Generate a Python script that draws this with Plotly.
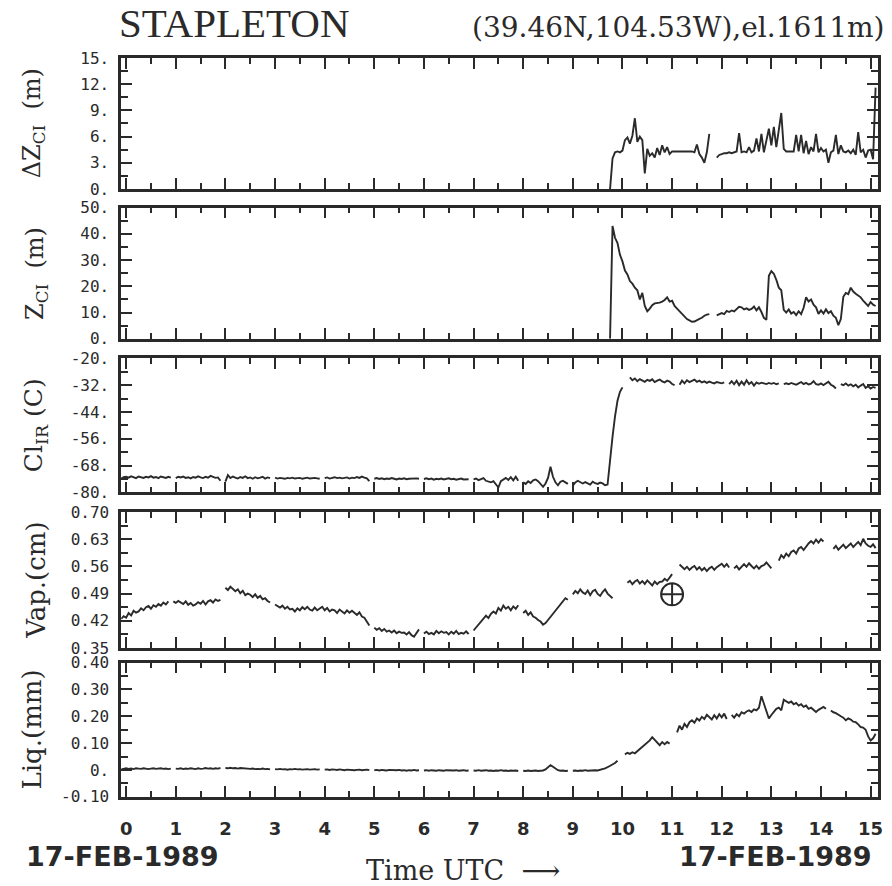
import plotly.graph_objects as go

# ---------------- data (hours UTC, sampled every 0.05 h) ----------------
t_step = 0.05

dz_start = 9.75
dz_values = [
    0.0, 3.5, 4.2, 4.3, 4.2,
    4.4, 5.6, 5.9, 5.2, 6.1,
    8.1, 5.4, 6.0, 5.6, 1.8,
    4.6, 3.8, 4.1, 3.6, 4.7,
    3.9, 5.0, 4.2, 4.8, 4.0,
    4.3, 4.3, 4.3, 4.3, 4.3,
    4.3, 4.3, 4.3, 4.3, 4.2,
    5.1, 4.0, 3.6, 3.0, 4.2,
    6.3, None, None, 3.6, 3.9,
    4.0, 4.1, 4.1, 4.2, 4.1,
    4.2, 4.3, 6.4, 4.2, 4.3,
    4.2, 4.8, 4.2, 4.4, 5.8,
    4.3, 6.3, 4.2, 5.5, 6.9,
    5.0, 7.1, 4.8, 6.5, 8.7,
    4.6, 4.3, 4.3, 4.3, 4.3,
    6.2, 4.3, 6.2, 4.1, 5.5,
    4.0, 4.8, 4.3, 6.3, 4.2,
    4.7, 4.3, 4.5, 3.0, 4.2,
    4.4, 6.2, 4.0, 5.0, 4.3,
    4.2, 4.4, 4.1, 4.5, 3.9,
    6.5, 4.2, 4.5, 3.6, 4.4,
    4.5, 3.4, 11.6,
]

zc_start = 9.75
zc_values = [
    0.0, 43.0, 38.5, 36.5, 32.0,
    29.5, 26.0, 24.5, 22.0, 21.0,
    19.5, 18.5, 15.0, 17.5, 12.5,
    10.5, 11.5, 12.8, 13.5, 13.6,
    13.8, 14.2, 14.8, 15.8, 14.2,
    14.5, 12.5, 11.5, 10.5, 9.5,
    8.2, 7.5, 7.0, 6.5, 6.6,
    7.2, 7.6, 8.0, 8.8, 9.2,
    9.4, None, None, 8.9, 9.2,
    9.8, 9.4, 10.6, 10.2, 10.8,
    10.4, 11.5, 12.2, 12.0, 11.2,
    11.6, 11.0, 11.4, 12.3, 10.8,
    12.0, 10.2, 8.0, 7.2, 24.0,
    25.8, 24.8, 22.5, 19.5, 18.5,
    11.0, 10.0, 11.2, 9.6, 10.2,
    9.0, 10.5, 9.4, 11.8, 15.8,
    14.2, 15.0, 13.0, 12.0, 9.5,
    10.8, 9.6, 11.2, 9.8, 10.5,
    8.8, 8.0, 5.2, 7.5, 16.0,
    17.5, 17.0, 19.5, 18.0, 17.2,
    16.5, 15.8, 14.5, 13.5, 12.5,
    14.0, 13.0, 12.5,
]

ci_start = -0.10
ci_values = [
    -73.8, -73.2,
    -73.0, -73.4, -72.8, -73.3, -73.6, -72.9, -73.2, -73.5, -73.0, -73.3, -72.7, -73.4, -73.1, -73.6, -72.9, -73.2, -73.5, -73.0, -73.4, None,
    -73.6, -73.0, -73.3, -72.9, -73.5, -73.2, -73.7, -73.1, -73.4, -72.8, -73.3, -73.6, -73.0, -73.4, -72.6, -73.2, -73.5, -73.3, -74.8, None,
    -75.2, -72.3, -73.6, -72.9, -73.4, -73.8, -73.1, -73.5, -72.8, -73.6, -73.3, -73.9, -73.2, -73.7, -73.4, -73.0, -73.8, -73.3, -73.6, None,
    -73.4, -73.8, -73.5, -73.6, -73.9, -73.5, -73.7, -73.4, -73.8, -73.6, -73.5, -73.9, -73.7, -73.4, -73.8, -73.6, -73.5, -73.7, -73.9, None,
    -73.6, -73.3, -73.8, -73.5, -73.2, -73.6, -73.4, -73.7, -73.5, -73.3, -73.8, -73.4, -73.6, -73.1, -73.5, -72.9, -73.4, -73.7, -75.0, None,
    -73.9, -73.6, -74.0, -73.7, -74.1, -73.8, -74.0, -73.6, -73.9, -74.2, -73.8, -74.0, -73.7, -74.1, -73.9, -73.8, -74.0, -73.7, -73.9, None,
    -74.0, -73.7, -74.1, -73.8, -74.3, -73.9, -74.1, -73.8, -74.2, -74.0, -73.7, -74.1, -73.9, -74.3, -74.0, -73.8, -74.2, -74.0, -74.1, None,
    -74.2, -73.8, -74.5, -74.0, -73.6, -74.8, -75.2, -75.5, -75.0, -76.5, -77.8, -75.0, -74.2, -73.5, -74.4, -73.2, -74.6, -73.0, -74.8, None,
    -75.5, -76.2, -75.0, -75.8, -74.6, -74.2, -75.0, -76.5, -77.5, -76.0, -73.5, -68.5, -73.0, -75.5, -76.8, -75.2, -74.8, -75.5, -76.2, None,
    -77.0, -75.5, -74.8, -75.6, -76.0, -75.4, -75.8, -76.5, -75.2, -75.9, -76.2, -75.6, -76.0, -76.8, -76.5, -64.0, -55.0, -46.0, -39.0, -35.0,
    -33.0, None, None, -28.5, -29.8, -29.0, -30.2, -29.3, -29.9, -30.5, -29.6, -30.1, -29.4, -30.6, -30.0, -29.5, -30.3, -30.8, -30.0, -30.4,
    -31.5, -32.0, None, -31.8, -30.0, -31.2, -29.8, -30.6, -30.2, -29.5, -30.5, -30.0, -30.8, -30.3, -31.0, -30.4, -30.9, -31.2, -30.6, -31.0,
    -31.2, -30.8, None, -31.5, -30.2, -31.6, -30.0, -32.0, -30.4, -31.8, -29.8, -31.5, -30.6, -32.2, -30.8, -31.4, -30.9, -31.2, -31.5, -31.0,
    -31.4, -31.0, -31.6, -31.2, None, -31.5, -31.2, -31.6, -31.0, -31.4, -31.8, -31.2, -30.6, -31.5, -31.0, -31.7, -31.3, -30.2, -31.5, -31.8,
    -31.2, -32.0, -31.4, -30.5, -31.8, -32.4, -33.5, None, -31.5, -32.0, -31.2, -32.2, -31.6, -32.5, -31.8, -33.0, -32.2, -31.5, -33.2, -32.5,
    -33.5, -32.8, -33.2,
]

vap_start = -0.10
vap_values = [
    0.425, 0.432,
    0.428, 0.440, 0.434, 0.446, 0.441, 0.444, 0.452, 0.447, 0.455, 0.458, 0.451, 0.460, 0.456, 0.463, 0.459, 0.467, 0.462, 0.470, None, 0.470,
    0.466, 0.471, 0.468, 0.463, 0.470, 0.461, 0.466, 0.459, 0.462, 0.468, 0.464, 0.471, 0.462, 0.470, 0.473, 0.467, 0.475, 0.471, 0.474, None,
    0.505, 0.499, 0.508, 0.502, 0.496, 0.501, 0.491, 0.497, 0.486, 0.490, 0.487, 0.481, 0.488, 0.479, 0.484, 0.475, 0.478, 0.471, 0.467, None,
    0.462, 0.457, 0.454, 0.459, 0.451, 0.456, 0.449, 0.451, 0.444, 0.452, 0.447, 0.455, 0.450, 0.456, 0.449, 0.446, 0.454, 0.447, 0.451, 0.456,
    0.447, 0.453, 0.444, 0.449, 0.447, 0.440, 0.449, 0.443, 0.439, 0.447, 0.441, 0.446, 0.440, 0.435, 0.442, 0.431, 0.428, 0.419, 0.408, None,
    0.402, 0.397, 0.401, 0.394, 0.399, 0.392, 0.395, 0.390, 0.395, 0.388, 0.392, 0.389, 0.390, 0.385, 0.391, 0.383, 0.379, 0.387, 0.398, None,
    0.387, 0.392, 0.386, 0.389, 0.385, 0.394, 0.388, 0.393, 0.389, 0.391, 0.385, 0.392, 0.387, 0.394, 0.386, 0.389, 0.387, 0.393, 0.386, None,
    0.395, 0.403, 0.409, 0.419, 0.424, 0.433, 0.427, 0.438, 0.444, 0.439, 0.453, 0.446, 0.459, 0.451, 0.456, 0.447, 0.457, 0.451, 0.460, None,
    0.440, 0.446, 0.435, 0.442, 0.431, 0.428, 0.422, 0.418, 0.410, 0.414, 0.422, 0.430, 0.436, 0.445, 0.455, 0.462, 0.470, 0.478, 0.474, None,
    0.488, 0.497, 0.491, 0.501, 0.493, 0.489, 0.498, 0.486, 0.496, 0.500, 0.489, 0.484, 0.494, 0.501, 0.490, 0.485, 0.478, None, None, None,
    None, None, 0.518, 0.523, 0.514, 0.521, 0.525, 0.516, 0.522, 0.515, 0.524, 0.517, 0.511, 0.521, 0.514, 0.520, 0.521, 0.528, 0.523, 0.531,
    0.540, None, None, 0.565, 0.559, 0.553, 0.559, 0.551, 0.557, 0.561, 0.552, 0.558, 0.550, 0.556, 0.548, 0.555, 0.559, 0.551, 0.558, 0.562,
    0.567, 0.559, 0.566, 0.557, None, 0.555, 0.561, 0.552, 0.559, 0.566, 0.559, 0.568, 0.561, 0.555, 0.562, 0.554, 0.561, 0.563, 0.570, 0.561,
    0.555, None, None, 0.575, 0.589, 0.582, 0.593, 0.586, 0.597, 0.601, 0.593, 0.606, 0.610, 0.602, 0.612, 0.619, 0.625, 0.619, 0.629, 0.621,
    0.630, 0.624, None, None, None, 0.605, 0.613, 0.603, 0.611, 0.616, 0.607, 0.614, 0.619, 0.610, 0.618, 0.623, 0.615, 0.631, 0.619, 0.613,
    0.610, 0.617, 0.607,
]

liq_start = -0.10
liq_values = [
    0.002, 0.004,
    0.006, 0.004, 0.005, 0.003, 0.006, 0.005, 0.004, 0.006, 0.005, 0.003, 0.005, 0.006, 0.004, 0.005, 0.006, 0.004, 0.005, 0.003, 0.005, None,
    0.005, 0.004, 0.006, 0.003, 0.005, 0.004, 0.006, 0.005, 0.003, 0.006, 0.004, 0.005, 0.007, 0.005, 0.006, 0.004, 0.006, 0.005, 0.007, None,
    0.007, 0.006, 0.008, 0.006, 0.007, 0.005, 0.007, 0.006, 0.005, 0.006, 0.004, 0.005, 0.003, 0.004, 0.003, 0.005, 0.003, 0.004, 0.002, None,
    0.003, 0.002, 0.004, 0.002, 0.003, 0.001, 0.003, 0.002, 0.004, 0.002, 0.003, 0.001, 0.002, 0.003, 0.001, 0.002, 0.003, 0.001, 0.002, None,
    0.001, 0.002, 0.000, 0.002, 0.001, 0.000, 0.002, 0.001, -0.001, 0.001, 0.000, 0.001, -0.001, 0.000, 0.001, -0.001, 0.000, 0.001, -0.001, None,
    -0.001, 0.000, -0.002, 0.000, -0.001, -0.002, 0.000, -0.001, -0.002, -0.001, 0.000, -0.002, -0.001, -0.003, -0.001, -0.002, 0.000, -0.002, -0.001, None,
    -0.002, -0.001, -0.003, -0.001, -0.002, -0.003, -0.001, -0.002, -0.003, -0.001, -0.002, -0.003, -0.002, -0.001, -0.003, -0.002, -0.001, -0.003, -0.002, None,
    -0.002, -0.003, -0.001, -0.003, -0.002, -0.001, -0.003, -0.002, -0.004, -0.002, -0.003, -0.001, -0.003, -0.002, -0.004, -0.002, -0.003, -0.002, -0.004, None,
    -0.003, -0.004, -0.002, -0.004, -0.003, -0.002, -0.004, -0.003, -0.002, 0.002, 0.010, 0.018, 0.012, 0.004, -0.001, -0.003, -0.002, -0.004, -0.003, None,
    -0.003, -0.002, -0.004, -0.002, -0.003, -0.001, -0.003, -0.002, -0.003, -0.001, -0.002, 0.000, 0.003, 0.006, 0.010, 0.015, 0.020, 0.026, 0.034, None,
    None, 0.058, 0.064, 0.060, 0.066, 0.062, 0.070, 0.076, 0.084, 0.092, 0.100, 0.110, 0.122, 0.112, 0.100, 0.092, 0.104, 0.096, 0.104, 0.098,
    None, None, 0.140, 0.165, 0.150, 0.172, 0.160, 0.178, 0.185, 0.176, 0.192, 0.184, 0.198, 0.190, 0.206, 0.195, 0.188, 0.204, 0.192, 0.208,
    0.196, 0.210, 0.190, None, 0.205, 0.195, 0.208, 0.200, 0.215, 0.210, 0.218, 0.222, 0.216, 0.226, 0.222, 0.232, 0.275, 0.250, 0.220, 0.192,
    0.205, 0.215, 0.228, 0.232, 0.222, 0.262, 0.255, 0.250, 0.255, 0.245, 0.250, 0.240, 0.245, 0.235, 0.240, 0.228, 0.232, 0.222, 0.216, 0.224,
    0.230, 0.235, 0.228, None, 0.222, 0.215, 0.212, 0.205, 0.200, 0.195, 0.185, 0.192, 0.188, 0.180, 0.178, 0.170, 0.160, 0.158, 0.150, 0.125,
    0.110, 0.118, 0.135,
]

marker_time = [11.0]
marker_vap = [0.488]

x_tick_vals = list(range(0, 16))
x_tick_text = [str(v) for v in x_tick_vals]

dz_ticks = [0, 3, 6, 9, 12, 15]
dz_ticktext = ["0.", "3.", "6.", "9.", "12.", "15."]
zc_ticks = [0, 10, 20, 30, 40, 50]
zc_ticktext = ["0.", "10.", "20.", "30.", "40.", "50."]
ci_ticks = [-80, -68, -56, -44, -32, -20]
ci_ticktext = ["-80.", "-68.", "-56.", "-44.", "-32.", "-20."]
vap_ticks = [0.35, 0.42, 0.49, 0.56, 0.63, 0.70]
vap_ticktext = ["0.35", "0.42", "0.49", "0.56", "0.63", "0.70"]
liq_ticks = [-0.10, 0.0, 0.10, 0.20, 0.30, 0.40]
liq_ticktext = ["-0.10", "0.", "0.10", "0.20", "0.30", "0.40"]

# ---------------- figure ----------------
W, H = 892, 886
INK = "#2a2a2a"


def times(start, n):
    return [round(start + i * t_step, 3) for i in range(n)]


x_dom = [121 / W, 883 / W]
panel_px = [(50, 184), (203, 337), (357, 494), (514, 653), (668, 805)]
y_doms = [[1 - b / H, 1 - t / H] for (t, b) in panel_px]

series = [
    (dz_start, dz_values),
    (zc_start, zc_values),
    (ci_start, ci_values),
    (vap_start, vap_values),
    (liq_start, liq_values),
]

fig = go.Figure()
for i, (st, vals) in enumerate(series, start=1):
    fig.add_trace(go.Scatter(
        x=times(st, len(vals)), y=vals, mode="lines",
        line=dict(color=INK, width=1.9), connectgaps=False,
        xaxis=f"x{i}", yaxis=f"y{i}", showlegend=False, hoverinfo="skip",
    ))

fig.add_trace(go.Scatter(
    x=marker_time, y=marker_vap, mode="markers",
    marker=dict(symbol="circle-cross-open", size=22, color=INK,
                line=dict(width=2, color=INK)),
    xaxis="x4", yaxis="y4", showlegend=False, hoverinfo="skip",
))

y_specs = [
    (dz_ticks, dz_ticktext, [0, 15], 0, 1.5),
    (zc_ticks, zc_ticktext, [0, 50], 0, 5),
    (ci_ticks, ci_ticktext, [-80, -20], -80, 6),
    (vap_ticks, vap_ticktext, [0.35, 0.70], 0.35, 0.035),
    (liq_ticks, liq_ticktext, [-0.10, 0.40], -0.10, 0.05),
]

layout = dict(
    width=W, height=H, autosize=False,
    margin=dict(l=0, r=0, t=0, b=0),
    paper_bgcolor="white", plot_bgcolor="white",
    showlegend=False,
)

for i in range(1, 6):
    tv, tt, rng, m0, md = y_specs[i - 1]
    layout[f"xaxis{i}"] = dict(
        domain=x_dom, anchor=f"y{i}", range=[-0.10, 15.15],
        showgrid=False, zeroline=False,
        showline=True, linecolor=INK, linewidth=2.5, mirror="allticks",
        ticks="inside", ticklen=11, tickwidth=2, tickcolor=INK,
        tickmode="array", tickvals=x_tick_vals, ticktext=x_tick_text,
        showticklabels=(i == 5),
        tickfont=dict(family="DejaVu Sans", size=18, color=INK, weight="bold"),
        ticklabelstandoff=14,
        minor=dict(ticks="inside", ticklen=6, tickwidth=2, tickcolor=INK,
                   tick0=0, dtick=0.5, showgrid=False),
    )
    layout[f"yaxis{i}"] = dict(
        domain=y_doms[i - 1], anchor=f"x{i}", range=rng,
        showgrid=False, zeroline=False,
        showline=True, linecolor=INK, linewidth=2.5, mirror="allticks",
        ticks="inside", ticklen=11, tickwidth=2, tickcolor=INK,
        tickmode="array", tickvals=tv, ticktext=tt,
        tickfont=dict(family="DejaVu Sans Mono", size=16, color=INK),
        ticklabelstandoff=6,
        minor=dict(ticks="inside", ticklen=7, tickwidth=2, tickcolor=INK,
                   tick0=m0, dtick=md, showgrid=False),
    )

fig.update_layout(**layout)


def px_x(p):
    return p / W


def px_y(p):
    return 1 - p / H


ann = []
ann.append(dict(text="STAPLETON", x=px_x(117), y=px_y(14), xanchor="left", yanchor="middle",
                font=dict(family="Liberation Serif", size=41, color=INK)))
ann.append(dict(text="(39.46N,104.53W),el.1611m)", x=px_x(891), y=px_y(19), xanchor="right",
                yanchor="middle", font=dict(family="DejaVu Serif", size=28, color=INK)))

ylabels = [
    "\u0394Z<sub>CI</sub>\u00a0\u00a0(m)",
    "Z<sub>CI</sub>\u00a0\u00a0(m)",
    "Cl<sub>IR</sub> (C)",
    "Vap.(cm)",
    "Liq.(mm)",
]
ylab_x = [33, 35, 35, 35, 31]
ylab_size = [24, 24, 25, 26, 26]
for i, lab in enumerate(ylabels):
    t, b = panel_px[i]
    ann.append(dict(text=lab, x=px_x(ylab_x[i]), y=px_y((t + b) / 2), textangle=-90,
                    xanchor="center", yanchor="middle",
                    font=dict(family="DejaVu Serif", size=ylab_size[i], color=INK)))

ann.append(dict(text="17-FEB-1989", x=px_x(122), y=px_y(866), xanchor="center", yanchor="middle",
                font=dict(family="DejaVu Sans", size=27, color=INK, weight="bold")))
ann.append(dict(text="17-FEB-1989", x=px_x(780), y=px_y(866), xanchor="center", yanchor="middle",
                font=dict(family="DejaVu Sans", size=27, color=INK, weight="bold")))
ann.append(dict(text="Time UTC  \u27f6", x=px_x(465), y=px_y(880), xanchor="center", yanchor="middle",
                font=dict(family="DejaVu Serif", size=27, color=INK)))

for a in ann:
    a.update(xref="paper", yref="paper", showarrow=False)
fig.update_layout(annotations=ann)

fig.write_html("out.html")
